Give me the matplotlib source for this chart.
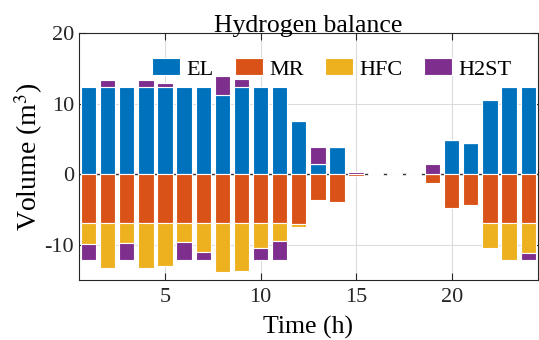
import numpy as np
import matplotlib
matplotlib.use("Agg")
import matplotlib.pyplot as plt

plt.rcParams['font.family'] = ['Liberation Serif', 'DejaVu Serif']
plt.rcParams['mathtext.fontset'] = 'stix'
plt.rcParams['axes.unicode_minus'] = False

# hourly hydrogen balance (m3)
hours = np.arange(1, 25)
EL = [12.4, 12.4, 12.4, 12.4, 12.4, 12.4, 12.4, 11.2, 12.4, 12.4, 12.4, 7.6,
      1.4, 3.9, 0, 0, 0, 0, 0, 4.9, 4.4, 10.5, 12.4, 12.4]
MR = [-6.9, -6.9, -6.9, -6.9, -6.9, -6.9, -6.9, -6.9, -6.9, -6.9, -6.9, -7.1,
      -3.7, -3.9, -0.3, 0, 0, 0, -1.2, -4.8, -4.4, -6.9, -6.9, -6.9]
HFC = [-3.0, -6.4, -2.9, -6.4, -6.1, -2.7, -4.1, -7.0, -6.8, -3.6, -2.6, -0.4,
       0, 0, 0, 0, 0, 0, 0, 0, 0, -3.6, -5.3, -4.2]
H2ST = [-2.3, 1.0, -2.3, 1.0, 0.6, -2.6, -1.2, 2.8, 1.1, -1.7, -2.7, 0,
        2.4, 0, 0.3, 0, 0, 0, 1.4, 0, 0, 0, 0, -1.1]

series = [('EL', EL, '#0072BD'), ('MR', MR, '#D95319'),
          ('HFC', HFC, '#EDB120'), ('H2ST', H2ST, '#7E2F8E')]

fig = plt.figure(figsize=(5.39, 3.40), dpi=100)
ax = fig.add_axes([0.1466, 0.1765, 0.851, 0.7255])

# stacked bars, positives and negatives stacked separately (like MATLAB)
width = 0.8
pos = np.zeros(len(hours))
neg = np.zeros(len(hours))
handles = []
for name, vals, col in series:
    v = np.array(vals, dtype=float)
    bottom = np.where(v >= 0, pos, neg)
    b = ax.bar(hours, v, width=width, bottom=bottom, color=col,
               edgecolor='white', linewidth=0.8, label=name, zorder=3)
    handles.append(b)
    pos = pos + np.where(v > 0, v, 0)
    neg = neg + np.where(v < 0, v, 0)

# baseline only shows in the gaps between bars
gap_l = np.concatenate([[0.5], hours + width / 2])
gap_r = np.concatenate([hours - width / 2, [24.5]])
ax.hlines(np.zeros(len(gap_l)), gap_l, gap_r, color='#333333', lw=1.0, zorder=2)

ax.set_xlim(0.5, 24.5)
ax.set_ylim(-15, 20)
ax.set_xticks([5, 10, 15, 20])
ax.set_yticks([-10, 0, 10, 20])
ax.grid(True, color='#dcdcdc', lw=0.8, zorder=0)
ax.set_axisbelow(True)
ax.tick_params(direction='in', top=True, right=True, length=5, width=0.8,
               labelsize=16, colors='#262626')
ax.tick_params(axis='x', pad=6)
for s in ax.spines.values():
    s.set_color('#262626')
    s.set_linewidth(0.8)

ax.set_title('Hydrogen balance', fontsize=18.5, pad=1)
ax.set_xlabel('Time (h)', fontsize=18.5, labelpad=6)
ax.set_ylabel('Volume (m$^3$)', fontsize=20, labelpad=0)

ax.legend(handles=handles, loc='center', bbox_to_anchor=(0.551, 0.855),
          ncol=4, frameon=False, fontsize=16, handlelength=1.25,
          handleheight=0.8, handletextpad=0.3, columnspacing=0.95,
          borderpad=0, borderaxespad=0)

fig.savefig('out.png', dpi=100)
